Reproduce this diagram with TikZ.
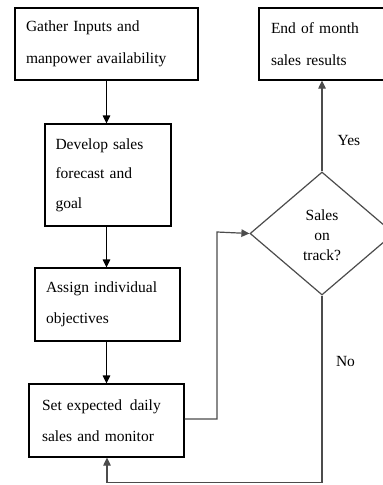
\documentclass[tikz,border=0pt]{standalone}
\usepackage{fontspec}
\setmainfont{Liberation Serif}
\usetikzlibrary{shapes.geometric,arrows.meta,calc}
\begin{document}
\begin{tikzpicture}[x=1pt,y=-1pt,
  box/.style={draw=black,line width=1.2pt,rectangle,inner xsep=11pt,inner ysep=0pt,align=left,anchor=center,font=\fontsize{15.5}{31}\selectfont},
  lab/.style={inner sep=0pt,font=\fontsize{15.5}{20}\selectfont,align=center},
  arr/.style={line width=1.2pt,draw=black,-{Triangle[length=8pt,width=7.5pt]}},
  garr/.style={line width=1.2pt,draw=black!70,-{Triangle[length=8pt,width=7.5pt]}}]
\useasboundingbox (0,0) rectangle (383,485);
\clip (0,0) rectangle (383,485);
\fill[white] (0,0) rectangle (383,485);
\node[box,minimum width=183pt,minimum height=72pt,text width=161pt,font=\fontsize{15.5}{32}\selectfont] (b1) at (106.5,44) {Gather Inputs and\\manpower availability};
\node[box,minimum width=126pt,minimum height=102pt,text width=105pt,inner xsep=10pt,font=\fontsize{15.5}{29.5}\selectfont] (b2) at (108,175) {Develop sales\\forecast and\\goal};
\node[box,minimum width=145pt,minimum height=73pt,text width=123pt] (b3) at (107.5,304.5) {Assign individual\\objectives};
\node[box,minimum width=155pt,minimum height=73pt,text width=129pt,inner xsep=13pt] (b4) at (106.5,420.5) {Set expected\, daily\\sales and monitor};
\node[box,minimum width=130pt,minimum height=72pt,text width=106pt,inner xsep=12pt,font=\fontsize{15.5}{32}\selectfont] (e) at (324,44) {End of month\\sales results};
\node[diamond,draw=black!70,line width=1.2pt,minimum width=144pt,minimum height=123pt,inner sep=0pt] (d) at (322,233.5) {};
\node[lab] (dt) at (322,235) {Sales\\on\\track?};
\draw[arr] (b1.south) -- (b1.south |- b2.north);
\draw[arr] (b2.south -| b1.south) -- (b1.south |- b3.north);
\draw[arr] (b3.south -| b1.south) -- (b1.south |- b4.north);
\coordinate (c1) at (217,419);
\coordinate (c2) at (217,232);
\draw[garr] (b4.east |- c1) -- (c1) -- (c2) -- (d.west);
\draw[garr] (d.north) -- (d.north |- e.south);
\coordinate (c3) at (322,482.5);
\coordinate (c4) at (107,482.5);
\draw[garr] (d.south) -- (c3) -- (c4) -- (b4.south -| c4);
\node[lab] (yes) at (349,140) {Yes};
\node[lab] (no) at (345.5,361) {No};
\end{tikzpicture}
\end{document}
